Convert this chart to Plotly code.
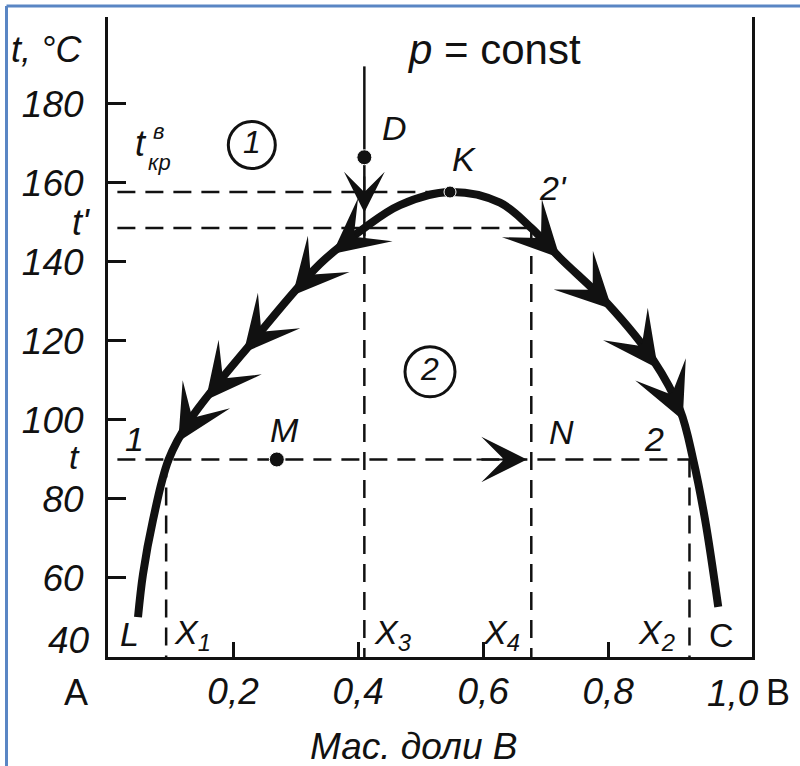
import numpy as np
import plotly.graph_objects as go

# Boiling / condensation dome of the binary system A-B at constant pressure
left_x = [0.048, 0.056, 0.072, 0.097, 0.131, 0.232, 0.339, 0.410, 0.467, 0.547]
left_t = [50.1, 61.0, 74.7, 90.0, 100.0, 120.0, 139.5, 148.6, 154.4, 157.7]
right_x = [0.547, 0.627, 0.677, 0.723, 0.798, 0.872, 0.915, 0.936, 0.955, 0.976]
right_t = [157.7, 155.0, 148.6, 141.0, 129.6, 115.2, 102.5, 89.9, 74.7, 52.7]

# characteristic temperatures and compositions
t_crit = 157.7
t_prime = 148.6
t_level = 90.0
x1, x2, x3, x4 = 0.093, 0.930, 0.410, 0.677
point_D = (0.410, 166.5)
point_M = (0.270, 90.0)
point_K = (0.547, 157.7)
d_line_top = 189.5

# temperatures at which direction arrows sit on each branch
left_arrow_t = [142.0, 131.5, 117.0, 105.0, 94.5]
right_arrow_t = [141.0, 128.0, 113.0, 100.0]

y_ticks = [60, 80, 100, 120, 140, 160, 180]
x_ticks = [0.2, 0.4, 0.6, 0.8]
x_tick_text = ["0,2", "0,4", "0,6", "0,8"]

X_RANGE = [0, 1.03]
Y_RANGE = [40, 202]
W, H = 800, 766
M_L, M_R, M_T, M_B = 108, 48, 17, 109

INK = "#111111"
FONT = "Liberation Sans, Arial, sans-serif"
DASH = "18px,10px"
x_start = 0.015

fig = go.Figure()


def seg(xs, ys, dash=DASH, width=2.5):
    fig.add_trace(go.Scatter(x=xs, y=ys, mode="lines", hoverinfo="skip",
                             line=dict(color=INK, width=width, dash=dash),
                             showlegend=False))


# dashed construction lines
seg([x_start, point_K[0]], [t_crit, t_crit])
seg([x_start, x4], [t_prime, t_prime])
seg([x_start, x2], [t_level, t_level])
seg([x1, x1], [t_level, Y_RANGE[0]])
seg([x3, x3], [t_prime, Y_RANGE[0]])
seg([x4, x4], [t_prime, Y_RANGE[0]])
seg([x2, x2], [t_level, Y_RANGE[0]])
# isopleth through D (solid part above the dome)
seg([x3, x3], [d_line_top, t_prime - 2], dash="solid", width=2.5)

# the dome
dome_x = left_x + right_x[1:]
dome_t = left_t + right_t[1:]
fig.add_trace(go.Scatter(x=dome_x, y=dome_t, mode="lines", hoverinfo="skip",
                         line=dict(color=INK, width=8, shape="spline", smoothing=1.0),
                         showlegend=False))

# points D, M, K
fig.add_trace(go.Scatter(x=[point_D[0], point_M[0], point_K[0]],
                         y=[point_D[1], point_M[1], point_K[1]],
                         mode="markers", hoverinfo="skip", showlegend=False,
                         marker=dict(color=INK, size=[15, 15, 12], opacity=1)))

# phase-region numbers in circles
fig.add_trace(go.Scatter(x=[0.230, 0.515], y=[169.6, 112.2], mode="markers+text",
                         text=["1", "2"], textposition="middle center",
                         textfont=dict(family=FONT, size=32, color=INK, style="italic"),
                         marker=dict(symbol="circle-open", size=[47, 50], opacity=1,
                                     color=INK, line=dict(width=3, color=INK)),
                         hoverinfo="skip", showlegend=False))

annotations = []


def arrow(tip_x, tip_y, tail_x, tail_y, scale):
    annotations.append(dict(x=tip_x, y=tip_y, ax=tail_x, ay=tail_y,
                            xref="x", yref="y", axref="x", ayref="y",
                            text="", showarrow=True, arrowhead=3,
                            arrowwidth=2, arrowsize=scale,
                            arrowcolor=INK))


lx_up = np.array(left_x)
lt_up = np.array(left_t)
for t in left_arrow_t:
    tip = np.interp(t, lt_up, lx_up)
    tail = np.interp(t + 7, lt_up, lx_up)
    arrow(tip, t, tail, t + 7, 4.6)

rx = np.array(right_x)[::-1]
rt = np.array(right_t)[::-1]
for t in right_arrow_t:
    tip = np.interp(t, rt, rx)
    tail = np.interp(t + 7, rt, rx)
    arrow(tip, t, tail, t + 7, 4.6)

# arrow down the isopleth from D, and along the tie line towards N
arrow(x3, 152.5, x3, 162.0, 3.4)
arrow(x4 - 0.007, t_level, x4 - 0.09, t_level, 3.8)


def label(x, y, text, size=34, italic=True, xanchor="center", yanchor="middle",
          xshift=0, yshift=0):
    annotations.append(dict(x=x, y=y, xref="x", yref="y", text=text,
                            showarrow=False, xanchor=xanchor, yanchor=yanchor,
                            xshift=xshift, yshift=yshift,
                            font=dict(family=FONT, size=size, color=INK,
                                      style="italic" if italic else "normal")))


label(0, 193.7, "t, °C", size=36, xanchor="right", xshift=-24)
label(0.618, 193.7, "<i>p</i> = const", size=42, italic=False)
label(0.459, 173.9, "D")
label(0.570, 166.1, "K")
label(0.712, 158.8, "2'")
label(0.053, 169.9, "t", size=36)
label(0.080, 172.9, "в", size=22)
label(0.082, 165.1, "кр", size=22)
label(0, t_prime, "t'", size=36, xanchor="right", xshift=-16, yshift=5)
label(0, t_level, "t", size=34, xanchor="right", xshift=-26, yshift=2)
label(0.043, 95.2, "1")
label(0.283, 97.5, "M")
label(0.726, 97.0, "N")
label(0.874, 95.2, "2")
label(0.034, 45.8, "L")
label(0.981, 45.6, "C", italic=False)
label(x1, 45.8, "X<sub>1</sub>", xanchor="left", xshift=6)
label(x3, 45.8, "X<sub>3</sub>", xanchor="left", xshift=8)
label(x4, 45.8, "X<sub>4</sub>", xanchor="right", xshift=-9)
label(x2, 45.8, "X<sub>2</sub>", xanchor="right", xshift=-12)
# axis-end labels
label(0, 40, "40", size=37, xanchor="right", xshift=-16, yshift=17)
label(1.0, 40, "1,0", size=37, yanchor="top", yshift=-14)
label(0, 40, "A", size=36, italic=False, yanchor="top", xshift=-32, yshift=-13)
label(1.0, 40, "B", size=36, italic=False, yanchor="top", xshift=45, yshift=-13)
label(0.49, 40, "Мас. доли B", size=37, yanchor="top", yshift=-67)

# blue frame around the figure (paper coordinates from pixel margins)
pw, ph = W - M_L - M_R, H - M_T - M_B
frame_x = (6.5 - M_L) / pw
frame_y = 1 + (M_T - 6) / ph
shapes = [
    dict(type="line", xref="paper", yref="paper", x0=frame_x, x1=frame_x,
         y0=frame_y, y1=-0.3, line=dict(color="#5a86c4", width=3)),
    dict(type="line", xref="paper", yref="paper", x0=frame_x, x1=1.2,
         y0=frame_y, y1=frame_y, line=dict(color="#5a86c4", width=3)),
]

fig.update_layout(
    width=W, height=H,
    margin=dict(l=M_L, r=M_R, t=M_T, b=M_B),
    plot_bgcolor="white", paper_bgcolor="white",
    annotations=annotations, shapes=shapes,
    xaxis=dict(range=X_RANGE, showgrid=False, zeroline=False,
               showline=True, linecolor=INK, linewidth=3,
               tickvals=x_ticks, ticktext=x_tick_text,
               ticks="inside", ticklen=15, tickwidth=2.5, tickcolor=INK,
               ticklabelstandoff=0,
               tickfont=dict(family=FONT, size=37, color=INK, style="italic")),
    yaxis=dict(range=Y_RANGE, showgrid=False, zeroline=False,
               showline=True, linecolor=INK, linewidth=3, mirror=True,
               tickvals=y_ticks,
               ticks="inside", ticklen=18, tickwidth=2.5, tickcolor=INK,
               ticklabelstandoff=14,
               tickfont=dict(family=FONT, size=37, color=INK, style="italic")),
)

fig.write_html("out.html")
